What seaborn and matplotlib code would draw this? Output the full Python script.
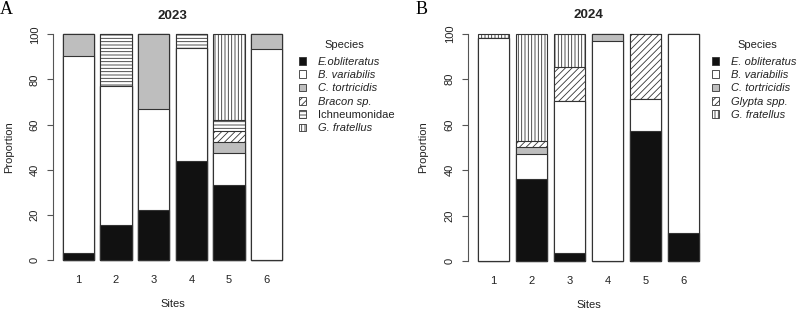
import matplotlib
matplotlib.use("Agg")
import matplotlib.pyplot as plt
from matplotlib.patches import Patch
import numpy as np
import pandas as pd
import seaborn as sns

sites = ["1", "2", "3", "4", "5", "6"]

# 2023 proportions (%) per site
species_23 = ["E.obliteratus", "B. variabilis", "C. tortricidis", "Bracon sp.", "Ichneumonidae", "G. fratellus"]
e_obl_23 = [3.3, 15.4, 22.2, 43.8, 33.3, 0]
b_var_23 = [87.0, 61.5, 44.5, 50.0, 14.3, 93.3]
c_tor_23 = [9.7, 0, 33.3, 0, 4.8, 6.7]
bracon_23 = [0, 0, 0, 0, 4.8, 0]
ichneu_23 = [0, 23.1, 0, 6.2, 4.8, 0]
g_frat_23 = [0, 0, 0, 0, 38.0, 0]

# 2024 proportions (%) per site
species_24 = ["E. obliteratus", "B. variabilis", "C. tortricidis", "Glypta spp.", "G. fratellus"]
e_obl_24 = [0, 36.1, 3.7, 0, 57.1, 12.5]
b_var_24 = [98.0, 11.1, 66.7, 96.7, 14.3, 87.5]
c_tor_24 = [0, 2.8, 0, 3.3, 0, 0]
glypta_24 = [0, 2.8, 14.8, 0, 28.6, 0]
g_frat_24 = [2.0, 47.2, 14.8, 0, 0, 0]

sns.set_style("ticks")
plt.rcParams['font.family'] = ['Liberation Sans', 'DejaVu Sans']
plt.rcParams['hatch.linewidth'] = 0.6
plt.rcParams['hatch.color'] = '#222222'

TXT = '#222222'
EDGE = '#333333'

# fill / hatch per species kind
style = {
    "E": ("#111111", None),
    "B": ("white", None),
    "C": ("#bebebe", None),
    "diag": ("white", "/////"),
    "horiz": ("white", "-----"),
    "vert": ("white", "|||||"),
}


def make_df(species, cols):
    rows = []
    for sp, vals in zip(species, cols):
        for s, v in zip(sites, vals):
            rows.append({"site": s, "species": sp, "value": v})
    df = pd.DataFrame(rows)
    df["species"] = pd.Categorical(df["species"], species, ordered=True)
    df = df.sort_values(["site", "species"])
    df["cum"] = df.groupby("site")["value"].cumsum()
    return df


def draw_panel(ax, df, species, kinds, title, letter, letter_xy, leg_anchor, leg_title_x):
    # stacked bars: draw cumulative tops from the top layer down
    for sp, kind in reversed(list(zip(species, kinds))):
        fc, h = style[kind]
        sns.barplot(data=df[df["species"] == sp], x="site", y="cum", order=sites,
                    color=fc, saturation=1, width=1 / 1.2, errorbar=None,
                    edgecolor=EDGE, linewidth=0.8, hatch=h, clip_on=False, ax=ax)
    ax.set_ylim(0, 100)
    ax.set_xlim(-0.67, 5.5)
    sns.despine(ax=ax, bottom=True)
    ax.spines['left'].set_color('#555555')
    ax.spines['left'].set_linewidth(0.8)
    ax.set_yticks([0, 20, 40, 60, 80, 100])
    ax.tick_params(axis='y', length=4.5, width=0.8, color='#555555', pad=5,
                   labelsize=8, labelcolor=TXT)
    for t in ax.get_yticklabels():
        t.set_rotation(90)
        t.set_va('center')
    ax.tick_params(axis='x', length=0, pad=11, labelsize=8, labelcolor=TXT)
    ax.set_ylabel("Proportion", fontsize=8, color=TXT)
    ax.yaxis.set_label_coords(-0.168, 0.5)
    ax.set_xlabel("Sites", fontsize=8, color=TXT)
    ax.xaxis.set_label_coords(0.515, -0.172)
    ax.text(0.515, 1.082, title, transform=ax.transAxes, ha='center', va='center',
            fontsize=9.6, fontweight='bold', color=TXT)
    fig = ax.figure
    fig.text(letter_xy[0], letter_xy[1], letter, family='Liberation Serif',
             fontsize=13, ha='left', va='top', color='black')
    handles = []
    for sp, kind in zip(species, kinds):
        fc, h = style[kind]
        handles.append(Patch(facecolor=fc, edgecolor=EDGE, hatch=h, linewidth=0.6, label=sp))
    leg = ax.legend(handles=handles, loc='upper left',
                    bbox_to_anchor=leg_anchor, bbox_transform=fig.transFigure,
                    frameon=False, fontsize=8, borderpad=0,
                    borderaxespad=0, handlelength=0.65, handleheight=0.65,
                    handletextpad=1.05, labelspacing=0.30)
    for t in leg.get_texts():
        t.set_color(TXT)
        if t.get_text() != "Ichneumonidae":
            t.set_style('italic')
    fig.text(leg_title_x, 1 - 45 / H, "Species", ha='center', va='center',
             fontsize=8, color=TXT)


W, H = 799, 312
fig = plt.figure(figsize=(W / 100, H / 100), dpi=100)

axA = fig.add_axes([53 / W, (H - 260) / H, 232.6 / W, 225.7 / H])
axB = fig.add_axes([468 / W, (H - 261) / H, 234.4 / W, 227.3 / H])

df23 = make_df(species_23, [e_obl_23, b_var_23, c_tor_23, bracon_23, ichneu_23, g_frat_23])
df24 = make_df(species_24, [e_obl_24, b_var_24, c_tor_24, glypta_24, g_frat_24])

draw_panel(axA, df23, species_23, ["E", "B", "C", "diag", "horiz", "vert"],
           "2023", "A", (0 / W, 1 - 1 / H), (299 / W, 1 - 56.7 / H), 344 / W)
draw_panel(axB, df24, species_24, ["E", "B", "C", "diag", "vert"],
           "2024", "B", (416 / W, 1 - 1 / H), (712 / W, 1 - 56.7 / H), 757 / W)

plt.savefig("out.png", dpi=100)
